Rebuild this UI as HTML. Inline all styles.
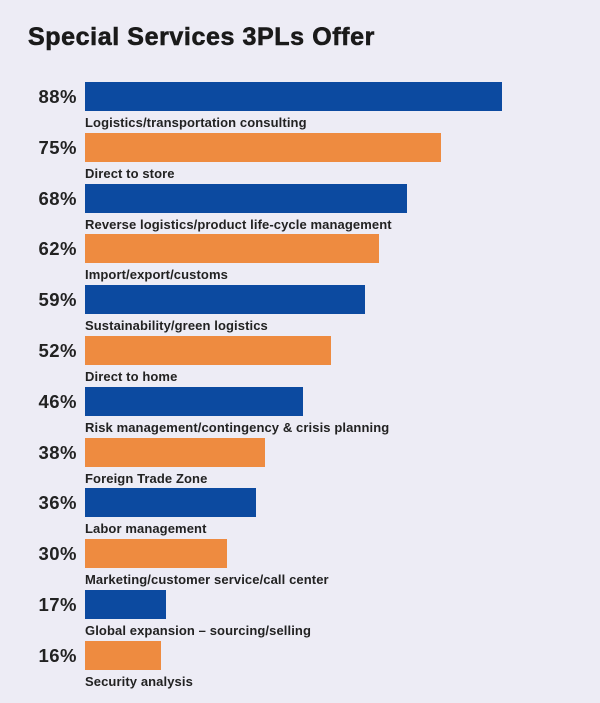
<!DOCTYPE html>
<html><head><style>
body{margin:0;width:600px;height:703px;background:#edecf5;font-family:"Liberation Sans",sans-serif;position:relative;overflow:hidden}
.t{position:absolute;left:28px;top:23px;font-size:25px;font-weight:bold;color:#1a1a1a;letter-spacing:0.6px;-webkit-text-stroke:0.6px #1a1a1a}
.p{position:absolute;left:10px;width:67px;text-align:right;font-size:18.5px;font-weight:bold;color:#222;letter-spacing:0.5px}
.b{position:absolute;left:85px;height:29px}
.l{position:absolute;left:85px;font-size:13px;font-weight:bold;color:#222;letter-spacing:0.1px}
</style></head><body>
<div class="t">Special Services 3PLs Offer</div>
<div id="c"></div>
<script>
var d=[[88,"Logistics/transportation consulting"],[75,"Direct to store"],[68,"Reverse logistics/product life-cycle management"],[62,"Import/export/customs"],[59,"Sustainability/green logistics"],[52,"Direct to home"],[46,"Risk management/contingency & crisis planning"],[38,"Foreign Trade Zone"],[36,"Labor management"],[30,"Marketing/customer service/call center"],[17,"Global expansion – sourcing/selling"],[16,"Security analysis"]];
var h="";
d.forEach(function(e,i){var y=82+i*50.8;var c=i%2?"#ee8b40":"#0c4aa0";
h+='<div class="b" style="top:'+y+'px;width:'+(e[0]*4.74)+'px;background:'+c+'"></div>';
h+='<div class="p" style="top:'+(y+4)+'px">'+e[0]+'%</div>';
h+='<div class="l" style="top:'+(y+33)+'px">'+e[1].replace("&","&amp;")+'</div>';});
document.getElementById("c").innerHTML=h;
</script>
</body></html>
